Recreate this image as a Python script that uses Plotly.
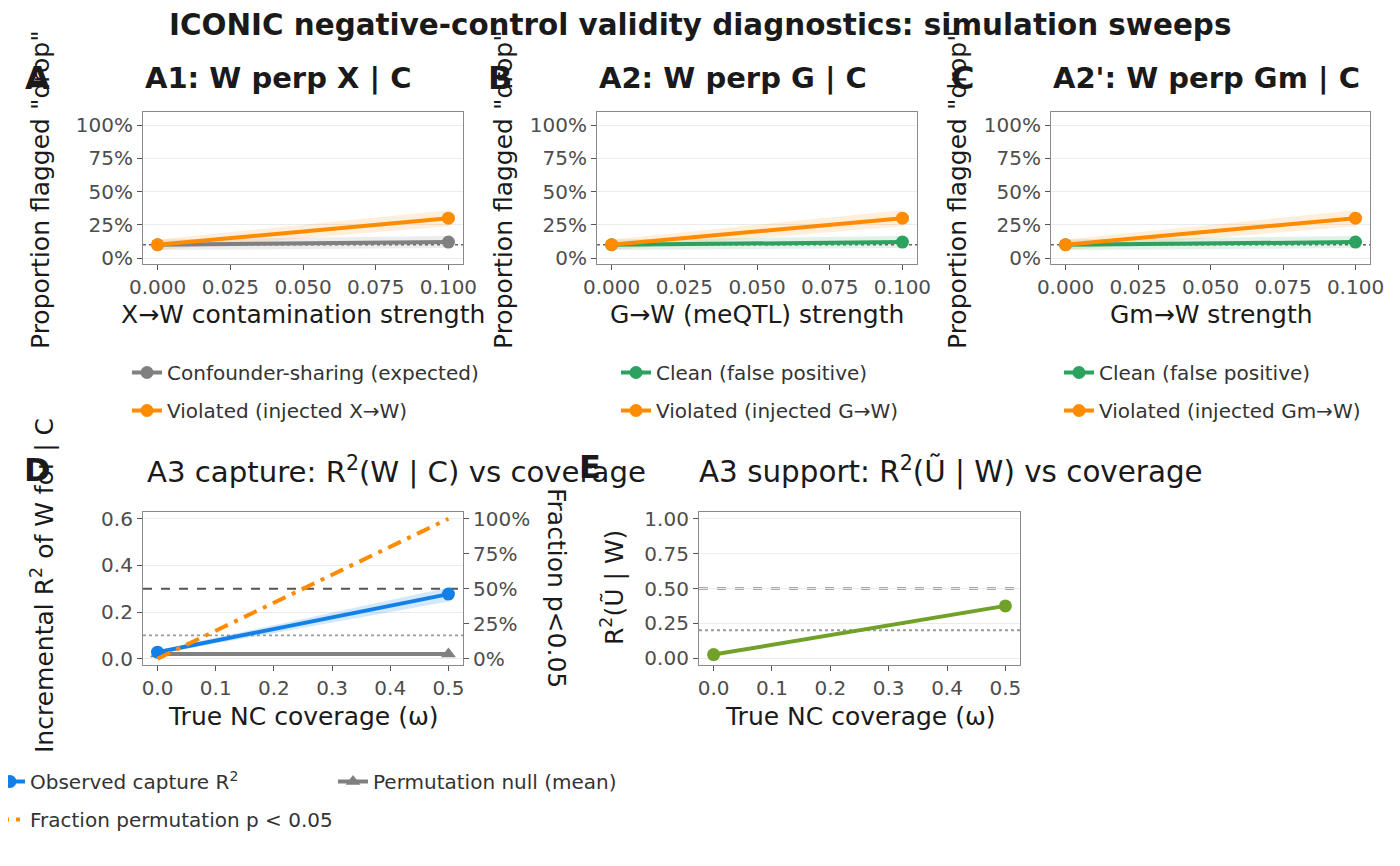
import plotly.graph_objects as go

# ---- data ----
strength = [0.0, 0.1]

a1_conf = [0.10, 0.12]
a1_conf_lo = [0.06, 0.075]
a1_conf_hi = [0.14, 0.165]
a1_viol = [0.10, 0.30]
a1_viol_lo = [0.06, 0.24]
a1_viol_hi = [0.14, 0.36]

a2_clean = [0.10, 0.12]
a2_clean_lo = [0.06, 0.075]
a2_clean_hi = [0.14, 0.165]
a2_viol = [0.10, 0.30]
a2_viol_lo = [0.06, 0.24]
a2_viol_hi = [0.14, 0.36]

a2m_clean = [0.10, 0.12]
a2m_clean_lo = [0.06, 0.075]
a2m_clean_hi = [0.14, 0.165]
a2m_viol = [0.10, 0.30]
a2m_viol_lo = [0.06, 0.24]
a2m_viol_hi = [0.14, 0.36]

coverage = [0.0, 0.5]
capture_r2 = [0.028, 0.277]
capture_lo = [0.02, 0.245]
capture_hi = [0.036, 0.305]
perm_null = [0.02, 0.02]
frac_sig = [0.0, 1.0]

support_r2 = [0.025, 0.375]
support_lo = [0.02, 0.365]
support_hi = [0.03, 0.385]

alpha_line = 0.10
capture_strong, capture_weak = 0.30, 0.10
support_strong, support_weak = 0.50, 0.20

ORANGE = "#FF8C00"
GREY = "#808080"
GREEN = "#2CA25F"
BLUE = "#1380E8"
OLIVE = "#72A12A"
FONT = "DejaVu Sans"

# the page body has an 8px margin, so the figure is drawn 8px in from the corner
OFF = 8
W, H = 1400 - 2 * OFF, 866 - 2 * OFF


def px(x):
    return (x - OFF) / W


def py(y):
    return 1 - (y - OFF) / H


fig = go.Figure()


def ribbon(x, lo, hi, color, xa, ya):
    fig.add_trace(go.Scatter(x=list(x) + list(x)[::-1], y=list(hi) + list(lo)[::-1],
                             fill="toself", fillcolor=color, line=dict(width=0),
                             mode="lines", hoverinfo="skip", showlegend=False,
                             xaxis=xa, yaxis=ya))


def series(x, y, name, color, xa, ya, leg, symbol="circle", dash="solid", mode="lines+markers"):
    fig.add_trace(go.Scatter(x=x, y=y, name=name, mode=mode,
                             line=dict(color=color, width=4, dash=dash),
                             marker=dict(color=color, size=13, symbol=symbol),
                             xaxis=xa, yaxis=ya, legend=leg, legendgroup=name))


# A1
ribbon(strength, a1_conf_lo, a1_conf_hi, "rgba(128,128,128,0.15)", "x", "y")
ribbon(strength, a1_viol_lo, a1_viol_hi, "rgba(255,140,0,0.15)", "x", "y")
series(strength, a1_conf, "Confounder-sharing (expected)", GREY, "x", "y", "legend")
series(strength, a1_viol, "Violated (injected X→W)", ORANGE, "x", "y", "legend")

# A2
ribbon(strength, a2_clean_lo, a2_clean_hi, "rgba(44,162,95,0.15)", "x2", "y2")
ribbon(strength, a2_viol_lo, a2_viol_hi, "rgba(255,140,0,0.15)", "x2", "y2")
series(strength, a2_clean, "Clean (false positive)", GREEN, "x2", "y2", "legend2")
series(strength, a2_viol, "Violated (injected G→W)", ORANGE, "x2", "y2", "legend2")

# A2'
ribbon(strength, a2m_clean_lo, a2m_clean_hi, "rgba(44,162,95,0.15)", "x3", "y3")
ribbon(strength, a2m_viol_lo, a2m_viol_hi, "rgba(255,140,0,0.15)", "x3", "y3")
series(strength, a2m_clean, "Clean (false positive) ", GREEN, "x3", "y3", "legend3")
series(strength, a2m_viol, "Violated (injected Gm→W)", ORANGE, "x3", "y3", "legend3")

# A3 capture
ribbon(coverage, capture_lo, capture_hi, "rgba(19,128,232,0.18)", "x4", "y4")
series(coverage, perm_null, "Permutation null (mean)", GREY, "x4", "y4", "legend5", symbol="triangle-up")
series(coverage, capture_r2, "Observed capture R<sup>2</sup>", BLUE, "x4", "y4", "legend4")
series(coverage, frac_sig, "Fraction permutation p < 0.05", ORANGE, "x4", "y6", "legend4",
       dash="14px,7px,4px,7px", mode="lines")

# A3 support
ribbon(coverage, support_lo, support_hi, "rgba(114,161,42,0.18)", "x5", "y5")
fig.add_trace(go.Scatter(x=coverage, y=support_r2, mode="lines+markers", showlegend=False,
                         line=dict(color=OLIVE, width=4), marker=dict(color=OLIVE, size=13),
                         xaxis="x5", yaxis="y5"))

axis_common = dict(showline=True, mirror=True, linecolor="#8a8a8a", linewidth=1.2,
                   ticks="outside", ticklen=5, tickcolor="#555555", tickwidth=1.2,
                   tickfont=dict(size=20, color="#4d4d4d", family=FONT),
                   zeroline=False, showgrid=False)
ygrid = dict(showgrid=True, gridcolor="#ebebeb", gridwidth=1.2)

top_y = [py(264), py(112)]
bot_y = [py(665), py(512)]
layout_axes = dict(
    xaxis=dict(axis_common, domain=[px(143), px(463)], anchor="y", range=[-0.005, 0.105],
               tick0=0, dtick=0.025, tickformat=".3f"),
    yaxis=dict(axis_common, **ygrid, domain=top_y, anchor="x", range=[-0.045, 1.1],
               tick0=0, dtick=0.25, tickformat=".0%"),
    xaxis2=dict(axis_common, domain=[px(597), px(917)], anchor="y2", range=[-0.005, 0.105],
                tick0=0, dtick=0.025, tickformat=".3f"),
    yaxis2=dict(axis_common, **ygrid, domain=top_y, anchor="x2", range=[-0.045, 1.1],
                tick0=0, dtick=0.25, tickformat=".0%"),
    xaxis3=dict(axis_common, domain=[px(1051), px(1370)], anchor="y3", range=[-0.005, 0.105],
                tick0=0, dtick=0.025, tickformat=".3f"),
    yaxis3=dict(axis_common, **ygrid, domain=top_y, anchor="x3", range=[-0.045, 1.1],
                tick0=0, dtick=0.25, tickformat=".0%"),
    xaxis4=dict(axis_common, domain=[px(143), px(463)], anchor="y4", range=[-0.025, 0.525],
                tick0=0, dtick=0.1, tickformat=".1f"),
    yaxis4=dict(axis_common, **ygrid, domain=bot_y, anchor="x4", range=[-0.027, 0.629],
                tick0=0, dtick=0.2, tickformat=".1f"),
    yaxis6=dict(axis_common, overlaying="y4", side="right", anchor="x4",
                range=[-0.027 / 0.6, 0.629 / 0.6], tick0=0, dtick=0.25, tickformat=".0%"),
    xaxis5=dict(axis_common, domain=[px(699), px(1020)], anchor="y5", range=[-0.025, 0.525],
                tick0=0, dtick=0.1, tickformat=".1f"),
    yaxis5=dict(axis_common, **ygrid, domain=bot_y, anchor="x5", range=[-0.05, 1.05],
                tick0=0, dtick=0.25, tickformat=".2f"),
)
layout_axes["yaxis6"]["showline"] = False

# reference lines
shapes = []
for ya, xa in [("y", "x"), ("y2", "x2"), ("y3", "x3")]:
    shapes.append(dict(type="line", xref=xa + " domain", yref=ya, x0=0, x1=1,
                       y0=alpha_line, y1=alpha_line, layer="below",
                       line=dict(color="#666666", width=1.6, dash="dot")))
for val, dash, col in [(capture_strong, "dash", "#555555"), (capture_weak, "dot", "#9a9a9a")]:
    shapes.append(dict(type="line", xref="x4 domain", yref="y4", x0=0, x1=1, y0=val, y1=val,
                       layer="below", line=dict(color=col, width=1.8, dash=dash)))
for val, dash, col in [(support_strong, "dash", "#555555"), (support_weak, "dot", "#9a9a9a")]:
    shapes.append(dict(type="line", xref="x5 domain", yref="y5", x0=0, x1=1, y0=val, y1=val,
                       layer="below", line=dict(color=col, width=1.8, dash=dash)))

TXT = "#1a1a1a"
ann = []


def text(x, y, s, size, angle=0, xanchor="center", color=TXT):
    ann.append(dict(x=px(x), y=py(y), xref="paper", yref="paper", text=s, showarrow=False,
                    textangle=angle, xanchor=xanchor, yanchor="middle",
                    font=dict(size=size, color=color, family=FONT)))


text(700, 25, "<b>ICONIC negative-control validity diagnostics: simulation sweeps</b>", 29.4)
for lx, ly, s in [(37, 78, "A"), (500, 78, "B"), (962, 78, "C"), (37, 470, "D"), (590, 467, "E")]:
    text(lx, ly, "<b>%s</b>" % s, 32)
text(143, 78, "<b>A1: W perp X | C</b>", 29, xanchor="left")
text(597, 78, "<b>A2: W perp G | C</b>", 29, xanchor="left")
text(1051, 78, "<b>A2': W perp Gm | C</b>", 29, xanchor="left")
text(145, 470, "A3 capture: R<sup>2</sup>(W | C) vs coverage", 29.2, xanchor="left")
text(697, 470, "A3 support: R<sup>2</sup>(Ũ | W) vs coverage", 29.4, xanchor="left")

text(303, 314, "X→W contamination strength", 25)
text(757, 314, "G→W (meQTL) strength", 25)
text(1211, 314, "Gm→W strength", 25)
text(303, 716, "True NC coverage (ω)", 25)
text(860, 716, "True NC coverage (ω)", 25)
for yx in [40, 503, 957]:
    text(yx, 190, 'Proportion flagged "drop"', 25, angle=-90)
text(42, 586, "Incremental R<sup>2</sup> of W for | C", 25, angle=-90)
text(612, 588, "R<sup>2</sup>(Ũ | W)", 25, angle=-90)
text(557, 588, "Fraction p<0.05", 25, angle=90)

leg_common = dict(font=dict(size=20, color="#333333", family=FONT), bgcolor="rgba(0,0,0,0)",
                  xanchor="left", yanchor="top", xref="paper", yref="paper",
                  tracegroupgap=9, itemwidth=30)
fig.update_layout(
    width=W, height=H,
    margin=dict(l=0, r=0, t=0, b=0, autoexpand=False),
    paper_bgcolor="white", plot_bgcolor="white",
    font=dict(family=FONT),
    shapes=shapes, annotations=ann,
    legend=dict(leg_common, x=px(127), y=py(353)),
    legend2=dict(leg_common, x=px(616), y=py(353)),
    legend3=dict(leg_common, x=px(1059), y=py(353)),
    legend4=dict(leg_common, x=px(-10), y=py(762)),
    legend5=dict(leg_common, x=px(333), y=py(762)),
    **layout_axes,
)

fig.write_html("out.html")
